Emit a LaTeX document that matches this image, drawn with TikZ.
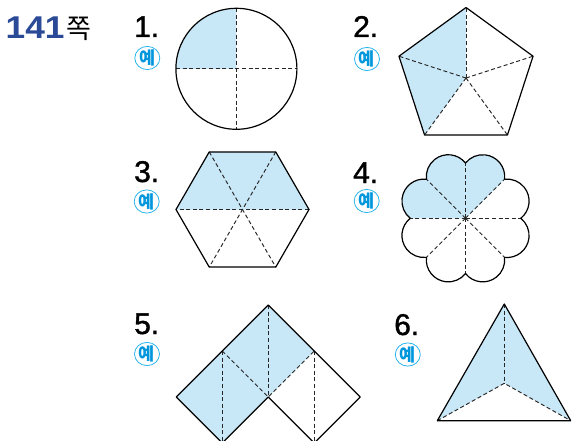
\documentclass[tikz,border=0pt]{standalone}
\usepackage{fontspec}
\setmainfont{Liberation Sans}
\newfontfamily\numfont[FakeBold=1.3]{Liberation Sans}
\newfontfamily\krfont{Noto Sans CJK KR}
\usetikzlibrary{shapes.geometric}
\definecolor{sky}{HTML}{C8E8F8}
\definecolor{hdrblue}{HTML}{2A4996}
\definecolor{yetext}{HTML}{0096DC}
\definecolor{yecirc}{HTML}{2AB4EC}
\tikzset{
  outline/.style={draw=black, line width=1.2pt, line join=round},
  dashline/.style={draw=black!85, line width=0.95pt, dash pattern=on 4pt off 2.6pt},
  part/.style={fill=sky},
  numlbl/.style={anchor=base west, inner sep=0pt, font=\numfont\fontsize{30}{30}\selectfont},
  yelbl/.style={ellipse, draw=yecirc, line width=0.8pt, minimum width=25pt, minimum height=21pt, inner sep=0pt, text=yetext, font=\krfont\bfseries\fontsize{17.5}{17.5}\selectfont}
}
\begin{document}
\begin{tikzpicture}[x=1pt,y=1pt]
\useasboundingbox (0,0) rectangle (572,440);
% header
\node[anchor=base west, inner sep=0pt, text=hdrblue, font=\bfseries\fontsize{31.5}{31.5}\selectfont] (hdr) at (5.5,401.7) {\scalebox{1.12}[1]{141}};
\node[anchor=base west, inner sep=0pt, xshift=1.5pt, font=\krfont\fontsize{27}{27}\selectfont] (zzok) at (hdr.base east) {쪽};
% labels
\node[numlbl] (n1) at (134,403) {1.};
\node[numlbl] (n2) at (353,403) {2.};
\node[numlbl] (n3) at (134,258) {3.};
\node[numlbl] (n4) at (353,257) {4.};
\node[numlbl] (n5) at (134,106) {5.};
\node[numlbl] (n6) at (394,105) {6.};
\node[yelbl] (y1) at (147.3,382) {예};
\node[yelbl] (y2) at (367,381) {예};
\node[yelbl] (y3) at (146.7,238.5) {예};
\node[yelbl] (y4) at (366.7,239) {예};
\node[yelbl] (y5) at (147,86) {예};
\node[yelbl] (y6) at (407.8,85.5) {예};
% 1. circle
\coordinate (C0) at (236.4,371.2);
\fill[part] (C0) -- ++(0,60.5) arc[start angle=90, end angle=180, radius=60.5] -- cycle;
\draw[dashline] ([shift={(180:60.5)}]C0) -- ([shift={(0:60.5)}]C0);
\draw[dashline] ([shift={(90:60.5)}]C0) -- ([shift={(270:60.5)}]C0);
\draw[outline] (C0) circle[radius=60.5];
% 2. pentagon
\coordinate (P0) at (466,362);
\foreach \i/\a in {1/90,2/162,3/234,4/306,5/18} \coordinate (P\i) at ([shift={(\a:70.5)}]P0);
\fill[part] (P1) -- (P2) -- (P3) -- (P0) -- cycle;
\foreach \i in {1,...,5} \draw[dashline] (P0) -- (P\i);
\draw[outline] (P1) -- (P2) -- (P3) -- (P4) -- (P5) -- cycle;
% 3. hexagon
\coordinate (H0) at (242.5,230.5);
\foreach \i/\a in {1/0,2/60,3/120,4/180,5/240,6/300} \coordinate (H\i) at ([shift={(\a:66.5)}]H0);
\fill[part] (H1) -- (H2) -- (H3) -- (H4) -- cycle;
\draw[dashline] (H1) -- (H4);
\draw[dashline] (H2) -- (H5);
\draw[dashline] (H3) -- (H6);
\draw[outline] (H1) -- (H2) -- (H3) -- (H4) -- (H5) -- (H6) -- cycle;
% 4. flower
\coordinate (F0) at (465.5,221.7);
\fill[part] (F0) -- ++(45:55.266)
  arc[start angle=67.5-74.01, end angle=67.5+74.01, radius=22]
  arc[start angle=112.5-74.01, end angle=112.5+74.01, radius=22]
  arc[start angle=157.5-74.01, end angle=157.5+74.01, radius=22] -- cycle;
\foreach \a in {0,45,...,315} \draw[dashline] (F0) -- ([shift={(\a:55.266)}]F0);
\draw[outline] ([shift={(0:55.266)}]F0)
  \foreach \a in {22.5,67.5,112.5,157.5,202.5,247.5,292.5,337.5} { arc[start angle=\a-74.01, end angle=\a+74.01, radius=22] } -- cycle;
% 5. chevron
\coordinate (ST) at (268.3,135);
\coordinate (SA) at (222.3,89);
\coordinate (SB) at (314.3,89);
\coordinate (SL) at (176.3,43);
\coordinate (SI) at (268.3,43);
\coordinate (SR) at (360.3,43);
\coordinate (SBL) at (222.3,-3);
\coordinate (SBR) at (314.3,-3);
\fill[part] (SL) -- (SA) -- (ST) -- (SB) -- (SI) -- (SBL) -- cycle;
\draw[dashline] (SA) -- (SBL);
\draw[dashline] (ST) -- (SI);
\draw[dashline] (SB) -- (SBR);
\draw[dashline] (SA) -- (SI) -- (SB);
\draw[outline] (SL) -- (SA) -- (ST) -- (SB) -- (SR) -- (SBR) -- (SI) -- (SBL) -- cycle;
% 6. triangle
\coordinate (TT) at (504.3,136);
\coordinate (TL) at (437.3,19.3);
\coordinate (TR) at (570.7,19.3);
\coordinate (TI) at (504.3,56.7);
\fill[part] (TT) -- (TL) -- (TI) -- (TR) -- cycle;
\draw[dashline] (TT) -- (TI);
\draw[dashline] (TL) -- (TI) -- (TR);
\draw[outline] (TT) -- (TL) -- (TR) -- cycle;
\end{tikzpicture}
\end{document}
